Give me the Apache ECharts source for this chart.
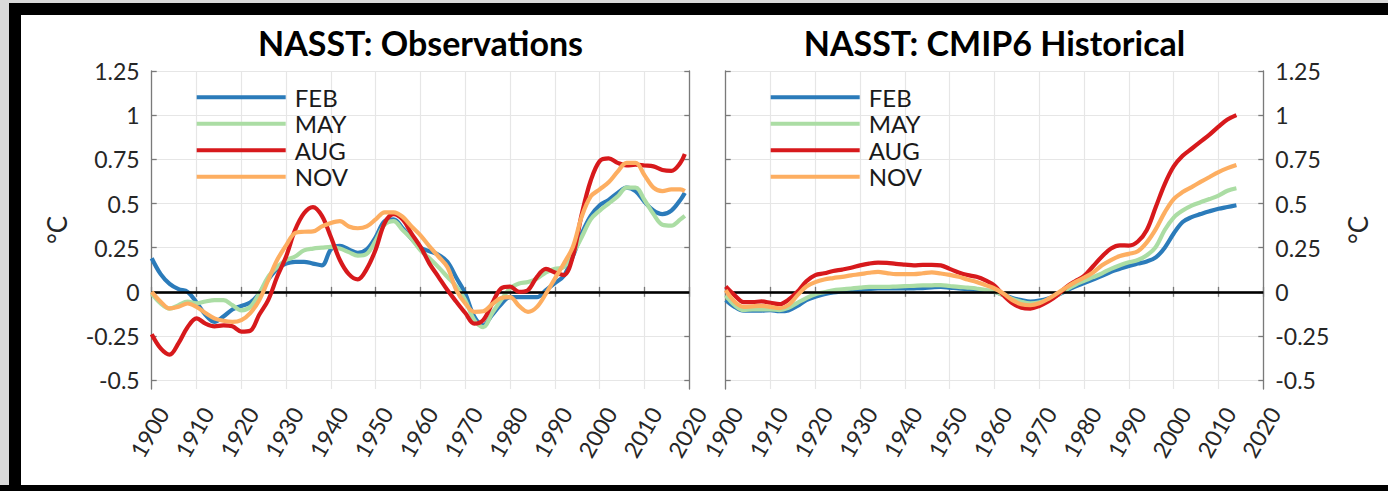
<!DOCTYPE html>
<html>
<head>
<meta charset="utf-8">
<script src="https://cdn.jsdelivr.net/npm/echarts@6/dist/echarts.min.js"></script>
<style>
  html, body { margin: 0; padding: 0; background: #fff; }
  #chart { width: 1388px; height: 491px; }
</style>
</head>
<body>
<div id="chart"></div>
<script>
// North Atlantic SST anomalies (°C) by calendar month.
const monthNames = ['FEB', 'MAY', 'AUG', 'NOV'];
const monthColors = ['#2b7bba', '#abdda4', '#d7191c', '#fdae61'];

// Observations: 1900–2019
const obsYears = [1900,1902,1904,1906,1908,1910,1912,1914,1916,1918,1920,1922,1924,1926,1928,1930,1932,1934,1936,1938,
  1940,1942,1944,1946,1948,1950,1952,1954,1956,1958,1960,1962,1964,1966,1968,1970,1972,1974,1976,1978,
  1980,1982,1984,1986,1988,1990,1992,1994,1996,1998,2000,2002,2004,2006,2008,2010,2012,2014,2016,2018,2019];
const obsFEB = [0.19,0.10,0.045,0.015,0.0,-0.06,-0.13,-0.17,-0.14,-0.10,-0.08,-0.06,-0.01,0.07,0.13,0.16,0.17,0.17,0.16,0.15,
  0.24,0.26,0.24,0.22,0.24,0.31,0.40,0.41,0.36,0.30,0.25,0.23,0.21,0.17,0.08,-0.01,-0.14,-0.19,-0.13,-0.07,
  -0.03,-0.03,-0.03,-0.03,0.01,0.05,0.09,0.20,0.33,0.43,0.49,0.52,0.56,0.59,0.57,0.51,0.46,0.44,0.46,0.52,0.56];
const obsMAY = [-0.01,-0.065,-0.095,-0.075,-0.055,-0.065,-0.055,-0.047,-0.047,-0.075,-0.105,-0.085,-0.01,0.085,0.14,0.18,0.20,0.235,0.245,0.25,
  0.255,0.245,0.225,0.205,0.215,0.29,0.38,0.40,0.35,0.30,0.235,0.19,0.14,0.085,0.03,-0.047,-0.16,-0.20,-0.12,-0.047,
  0.02,0.047,0.056,0.075,0.11,0.13,0.14,0.215,0.31,0.41,0.46,0.50,0.54,0.59,0.59,0.52,0.44,0.38,0.375,0.41,0.43];
const obsAUG = [-0.24,-0.32,-0.355,-0.29,-0.20,-0.15,-0.18,-0.195,-0.19,-0.195,-0.225,-0.22,-0.13,-0.047,0.085,0.20,0.35,0.445,0.48,0.43,
  0.31,0.18,0.10,0.07,0.13,0.24,0.39,0.44,0.41,0.33,0.255,0.16,0.085,0.01,-0.056,-0.12,-0.18,-0.16,-0.066,0.02,
  0.03,0.0,0.01,0.085,0.13,0.11,0.095,0.20,0.44,0.63,0.74,0.755,0.73,0.715,0.72,0.715,0.71,0.69,0.685,0.73,0.78];
const obsNOV = [0.0,-0.056,-0.094,-0.085,-0.066,-0.085,-0.12,-0.15,-0.164,-0.17,-0.16,-0.12,-0.047,0.066,0.18,0.263,0.333,0.34,0.342,0.37,
  0.39,0.40,0.37,0.36,0.37,0.41,0.45,0.45,0.425,0.37,0.32,0.257,0.20,0.14,0.01,-0.066,-0.113,-0.11,-0.07,-0.035,
  -0.03,-0.08,-0.113,-0.085,-0.01,0.075,0.16,0.254,0.427,0.54,0.58,0.62,0.68,0.73,0.73,0.66,0.59,0.57,0.58,0.58,0.57];

// CMIP6 historical ensemble mean: 1900–2014
const cmipYears = [1900,1902,1904,1906,1908,1910,1912,1914,1916,1918,1920,1922,1924,1926,1928,1930,1932,1934,1936,1938,
  1940,1942,1944,1946,1948,1950,1952,1954,1956,1958,1960,1962,1964,1966,1968,1970,1972,1974,1976,1978,
  1980,1982,1984,1986,1988,1990,1992,1994,1996,1998,2000,2002,2004,2006,2008,2010,2012,2014];
const cmipFEB = [-0.047,-0.085,-0.107,-0.107,-0.106,-0.103,-0.11,-0.105,-0.08,-0.047,-0.028,-0.014,-0.004,0.002,0.007,0.011,0.016,0.019,0.019,0.019,
  0.019,0.02,0.021,0.025,0.028,0.024,0.019,0.016,0.013,0.007,0.0,-0.018,-0.035,-0.047,-0.055,-0.05,-0.038,-0.019,0.006,0.03,
  0.05,0.07,0.09,0.113,0.13,0.147,0.16,0.172,0.195,0.25,0.33,0.395,0.423,0.44,0.456,0.47,0.48,0.49];
const cmipMAY = [-0.02,-0.075,-0.103,-0.10,-0.10,-0.10,-0.103,-0.09,-0.062,-0.035,-0.013,-0.002,0.009,0.014,0.019,0.024,0.028,0.028,0.028,0.03,
  0.032,0.034,0.036,0.037,0.038,0.033,0.028,0.024,0.019,0.01,0.0,-0.02,-0.04,-0.056,-0.065,-0.06,-0.045,-0.019,0.012,0.04,
  0.062,0.083,0.105,0.13,0.15,0.167,0.18,0.207,0.254,0.35,0.42,0.46,0.488,0.507,0.525,0.545,0.572,0.586];
const cmipAUG = [0.03,-0.02,-0.058,-0.058,-0.054,-0.062,-0.07,-0.045,0.0,0.06,0.095,0.105,0.118,0.126,0.136,0.15,0.16,0.165,0.164,0.158,
  0.154,0.15,0.153,0.153,0.15,0.13,0.11,0.095,0.085,0.065,0.035,-0.02,-0.065,-0.09,-0.095,-0.08,-0.055,-0.02,0.027,0.06,
  0.09,0.145,0.20,0.245,0.263,0.262,0.285,0.35,0.48,0.61,0.71,0.77,0.81,0.85,0.89,0.935,0.975,1.0];
const cmipNOV = [0.01,-0.056,-0.085,-0.082,-0.08,-0.085,-0.093,-0.075,-0.02,0.03,0.055,0.07,0.078,0.085,0.093,0.10,0.108,0.113,0.106,0.10,
  0.10,0.10,0.105,0.11,0.104,0.096,0.085,0.07,0.056,0.038,0.019,-0.009,-0.047,-0.07,-0.076,-0.065,-0.04,-0.008,0.025,0.055,
  0.08,0.11,0.15,0.18,0.203,0.215,0.23,0.28,0.355,0.45,0.525,0.565,0.593,0.622,0.65,0.678,0.70,0.718];

const tempTicks = [-0.5,-0.25,0,0.25,0.5,0.75,1,1.25];
const panelTitles = ['NASST: Observations', 'NASST: CMIP6 Historical'];

const FONT = 'Lato, "Open Sans", sans-serif';
const AXIS_GREY = '#7a7a7a';
const TEXT_GREY = '#262626';
const GRID_GREY = '#e6e6e6';

const panels = [
  { left: 151.7, years: obsYears, values: [obsFEB, obsMAY, obsAUG, obsNOV], labelSide: 'left' },
  { left: 725.7, years: cmipYears, values: [cmipFEB, cmipMAY, cmipAUG, cmipNOV], labelSide: 'right' }
];
const PLOT_W = 537.6, PLOT_TOP = 71, PLOT_H = 318;
// slanted year labels hang a little to the right of their tick
const YEAR_LABEL_SHIFT = 11;

const grid = [], xAxis = [], yAxis = [], series = [], title = [], legend = [];

panels.forEach((p, gi) => {
  const g = gi * 2;          // plotting grid
  grid.push({ left: p.left, top: PLOT_TOP, width: PLOT_W, height: PLOT_H, containLabel: false });
  grid.push({ left: p.left + YEAR_LABEL_SHIFT, top: PLOT_TOP, width: PLOT_W, height: PLOT_H, containLabel: false });

  const xBase = {
    gridIndex: g, type: 'value', min: 1900, max: 2020, interval: 10,
    axisLine: { show: true, lineStyle: { color: AXIS_GREY, width: 1.3 } },
    axisTick: { show: true, inside: true, length: 5, lineStyle: { color: AXIS_GREY, width: 1.3 } },
    axisLabel: { show: false }
  };
  xAxis.push(Object.assign({}, xBase, {
    position: 'bottom',
    splitLine: { show: true, lineStyle: { color: GRID_GREY, width: 1.2 } }
  }));
  xAxis.push(Object.assign({}, xBase, { position: 'top', splitLine: { show: false } }));
  // year labels
  xAxis.push({
    gridIndex: g + 1, type: 'value', min: 1900, max: 2020, interval: 10, position: 'bottom',
    axisLine: { show: false }, axisTick: { show: false }, splitLine: { show: false },
    axisLabel: {
      show: true, rotate: 60, margin: 20,
      fontFamily: FONT, fontSize: 23, color: TEXT_GREY,
      showMinLabel: true, showMaxLabel: true, hideOverlap: false,
      formatter: v => String(v)
    }
  });

  const yBase = {
    gridIndex: g, type: 'value', min: -0.55, max: 1.25,
    axisLine: { show: true, lineStyle: { color: AXIS_GREY, width: 1.3 } },
    axisTick: { show: true, inside: true, length: 5, customValues: tempTicks, lineStyle: { color: AXIS_GREY, width: 1.3 } }
  };
  const labelled = Object.assign({}, yBase, {
    position: p.labelSide,
    name: '°C', nameLocation: 'middle', nameRotate: 90, nameGap: 82,
    nameTextStyle: { fontFamily: FONT, fontSize: 26, color: TEXT_GREY },
    axisLabel: {
      show: true, margin: 12, customValues: tempTicks,
      fontFamily: FONT, fontSize: 23, color: TEXT_GREY,
      formatter: v => String(v)
    },
    splitLine: { show: true, lineStyle: { color: GRID_GREY, width: 1.2 } }
  });
  const plain = Object.assign({}, yBase, {
    position: p.labelSide === 'left' ? 'right' : 'left',
    axisLabel: { show: false }, splitLine: { show: false }
  });
  // y axis for the label grid (nothing drawn)
  const hidden = {
    gridIndex: g + 1, type: 'value', min: -0.55, max: 1.25, show: false
  };
  yAxis.push(labelled, plain, hidden);

  const xi = gi * 3, yi = gi * 3;
  monthNames.forEach((name, k) => {
    series.push({
      name, type: 'line', xAxisIndex: xi, yAxisIndex: yi,
      data: p.years.map((yr, i) => [yr, p.values[k][i]]),
      showSymbol: false, symbol: 'none', smooth: 0.35,
      lineStyle: { color: monthColors[k], width: 4.2 },
      itemStyle: { color: monthColors[k] },
      z: 3 + k, silent: true
    });
  });
  // zero reference line
  series.push({
    type: 'line', xAxisIndex: xi, yAxisIndex: yi, data: [], silent: true, z: 10,
    markLine: {
      silent: true, symbol: 'none', label: { show: false },
      lineStyle: { color: '#000', width: 2.6, type: 'solid' },
      data: [{ yAxis: 0 }]
    }
  });

  title.push({
    text: panelTitles[gi], left: p.left + PLOT_W / 2 - 5, top: 20, textAlign: 'center',
    textStyle: { fontFamily: FONT, fontWeight: 'bold', fontSize: 34, color: '#000' }
  });

  legend.push({
    data: monthNames, orient: 'vertical', left: p.left + 45, top: 85.3, padding: 0,
    itemWidth: 89, itemHeight: 4, itemGap: 2.5, icon: 'rect',
    itemStyle: { borderWidth: 0 },
    textStyle: { fontFamily: FONT, fontSize: 24, color: '#1a1a1a', padding: [0, 0, 0, 4] }
  });
});

const chart = echarts.init(document.getElementById('chart'), null, { renderer: 'svg' });
chart.setOption({
  backgroundColor: '#fff',
  animation: false,
  grid, xAxis, yAxis, series, title, legend,
  graphic: [
    { type: 'rect', shape: { x: 0, y: 0, width: 1388, height: 3 }, style: { fill: '#d9d9d9' }, silent: true },
    { type: 'rect', shape: { x: 0, y: 3, width: 1388, height: 12 }, style: { fill: '#000' }, silent: true },
    { type: 'rect', shape: { x: 0, y: 0, width: 9, height: 491 }, style: { fill: '#d9d9d9' }, silent: true },
    { type: 'rect', shape: { x: 9, y: 3, width: 12, height: 488 }, style: { fill: '#000' }, silent: true },
    { type: 'rect', shape: { x: 0, y: 485, width: 1388, height: 6 }, style: { fill: '#000' }, silent: true }
  ]
});
</script>
</body>
</html>
